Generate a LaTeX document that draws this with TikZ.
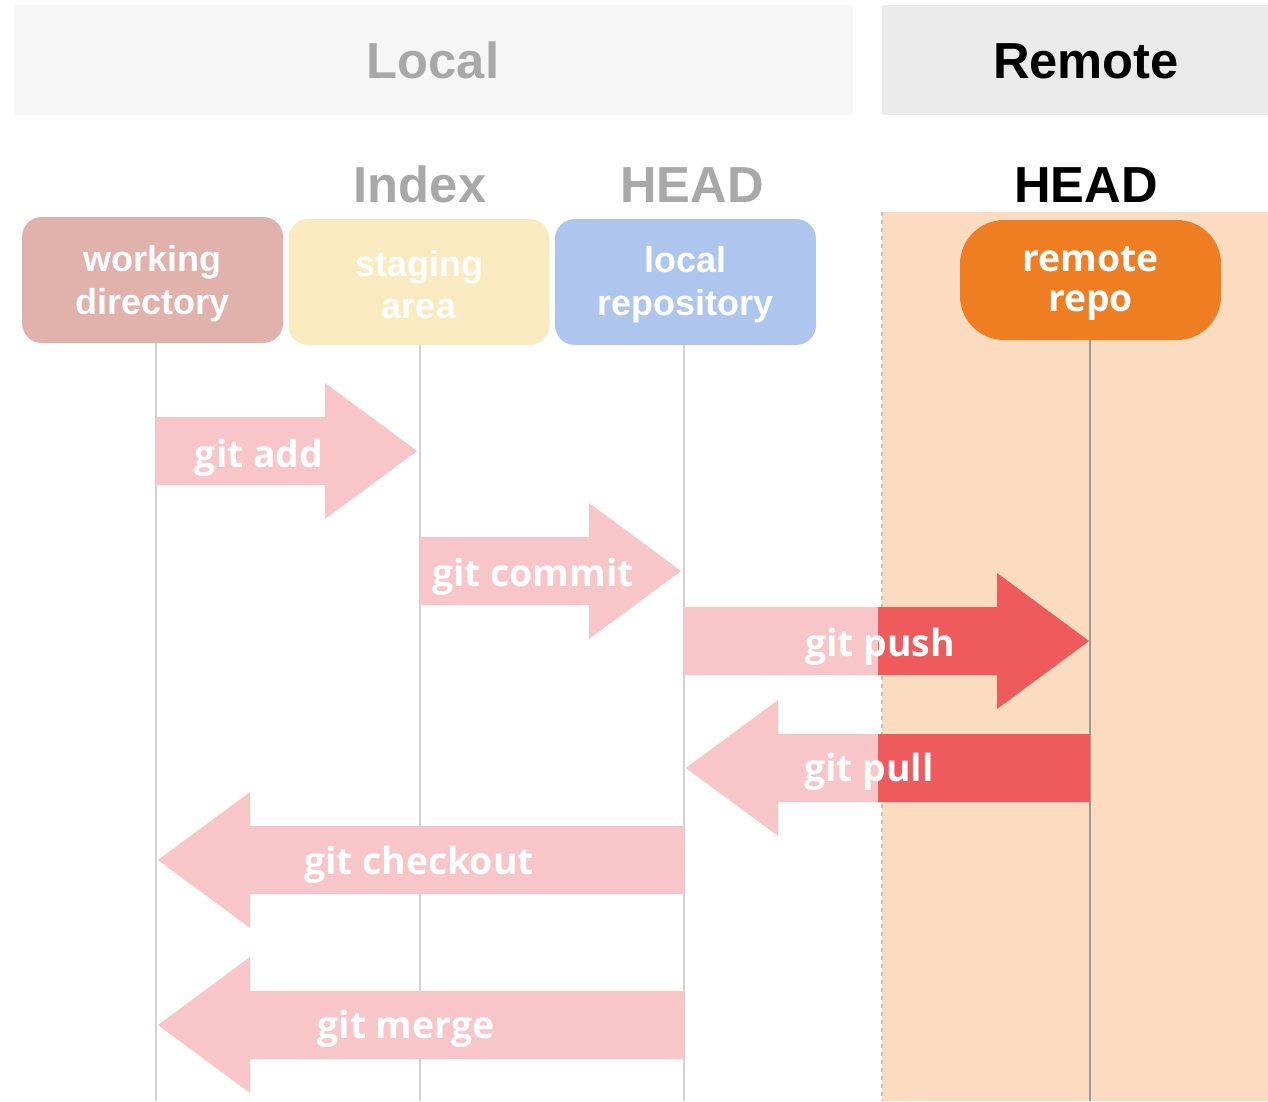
\documentclass[tikz,border=0pt]{standalone}
\usepackage{fontspec}
\setmainfont{Liberation Sans}
\newfontfamily\osans{Open Sans}
\begin{document}
\begin{tikzpicture}[x=0.75pt,y=-0.75pt]
\definecolor{localband}{HTML}{F6F6F6}
\definecolor{remoteband}{HTML}{EBEBEB}
\definecolor{headgray}{HTML}{A8A8A8}
\definecolor{peach}{HTML}{FBDCC0}
\definecolor{wdcol}{HTML}{E1B1AB}
\definecolor{stcol}{HTML}{FAEABF}
\definecolor{lrcol}{HTML}{AEC6EE}
\definecolor{rrcol}{HTML}{EF7D22}
\definecolor{pinkarrow}{HTML}{F8C6C8}
\definecolor{redarrow}{HTML}{EF5A5C}
\definecolor{lifeline}{HTML}{D2D2D2}
\definecolor{remoteline}{HTML}{9A9A9A}
\tikzset{
  header/.style={font=\fontsize{38}{40}\selectfont\bfseries, anchor=base, inner sep=0pt},
  stagebox/.style={rounded corners=20pt*0.75, minimum width=261*0.75pt, minimum height=126*0.75pt,
    inner sep=0pt},
  stagetext/.style={inner sep=0pt, text=white, align=center,
    font=\fontsize{27}{32}\selectfont\bfseries},
  remotebox/.style={rounded corners=44pt*0.75, minimum width=261*0.75pt, minimum height=120*0.75pt,
    inner sep=0pt, fill=rrcol},
  remotetext/.style={inner sep=0pt, text=white, align=center,
    font=\osans\fontsize{28}{30}\selectfont\bfseries},
  cmdlabel/.style={text=white, anchor=base, inner sep=0pt, font=\osans\fontsize{28}{30}\selectfont\bfseries},
  life/.style={draw=lifeline, line width=1.5pt}
}
% right-pointing block arrow: tail x, tip x, centre y
\newcommand\rightblock[4][pinkarrow]{%
  \fill[#1] (#2,#4-34) -- (#3-92,#4-34) -- (#3-92,#4-68) -- (#3,#4)
    -- (#3-92,#4+68) -- (#3-92,#4+34) -- (#2,#4+34) -- cycle;}
% left-pointing block arrow: tail x, tip x, centre y
\newcommand\leftblock[4][pinkarrow]{%
  \fill[#1] (#2,#4-34) -- (#3+92,#4-34) -- (#3+92,#4-68) -- (#3,#4)
    -- (#3+92,#4+68) -- (#3+92,#4+34) -- (#2,#4+34) -- cycle;}

\useasboundingbox (0,0) rectangle (1268,1101);
\fill[white] (0,0) rectangle (1268,1101);

% header bands
\fill[localband] (14,5) rectangle (853,115);
\fill[remoteband] (882,5) rectangle (1268,115);
\node[header, text=headgray] (local) at (433,78) {Local};
\node[header, text=black] (remote) at (1086,78) {Remote};

% remote area
\fill[peach] (882,212) rectangle (1268,1101);
\draw[headgray!70, dashed, line width=1pt] (882,212) -- (882,1101);

\node[header, text=headgray] (index) at (420,202) {Index};
\node[header, text=headgray] (lhead) at (692,202) {HEAD};
\node[header, text=black] (rhead) at (1086,202) {HEAD};

% stages
\node[stagebox, fill=wdcol] (wd) at (152.5,280) {};
\node[stagebox, fill=stcol] (sa) at (419,282) {};
\node[stagebox, fill=lrcol] (lr) at (685.5,282) {};
\node[remotebox] (rr) at (1090.5,280) {};
\node[stagetext] (wdtext) at ([yshift=-3pt]wd.center) {working\\directory};
\node[stagetext] (satext) at ([yshift=-2pt]sa.center) {staging\\area};
\node[stagetext] (lrtext) at ([yshift=-2pt]lr.center) {local\\repository};
\node[remotetext] (rrtext) at ([yshift=-3pt]rr.center) {remote\\repo};

% lifelines
\coordinate (wdend) at (156,1101);
\coordinate (saend) at (420,1101);
\coordinate (lrend) at (684,1101);
\coordinate (rrend) at (1090,1101);
\draw[life] (wd.south -| wdend) -- (wdend);
\draw[life] (sa.south -| saend) -- (saend);
\draw[life] (lr.south -| lrend) -- (lrend);
\draw[draw=remoteline, line width=1.5pt] (rr.south -| rrend) -- (rrend);

% commands
\rightblock{156}{417}{451}
\node[cmdlabel] (add) at (259,467) {git add};

\rightblock{420}{681}{571}
\node[cmdlabel] (commit) at (533,586) {git commit};

\rightblock{684}{1089}{641}
\begin{scope}
  \clip (878,0) rectangle (1268,1101);
  \rightblock[redarrow]{684}{1089}{641}
\end{scope}
\node[cmdlabel] (push) at (880,656) {git push};

\leftblock{1090}{686}{768}
\begin{scope}
  \clip (878,0) rectangle (1268,1101);
  \leftblock[redarrow]{1090}{686}{768}
\end{scope}
\node[cmdlabel] (pull) at (869,781) {git pull};

\leftblock{684}{158}{860}
\node[cmdlabel] (checkout) at (419,874) {git checkout};

\leftblock{684}{158}{1025}
\node[cmdlabel] (merge) at (406,1038) {git merge};
\end{tikzpicture}
\end{document}
